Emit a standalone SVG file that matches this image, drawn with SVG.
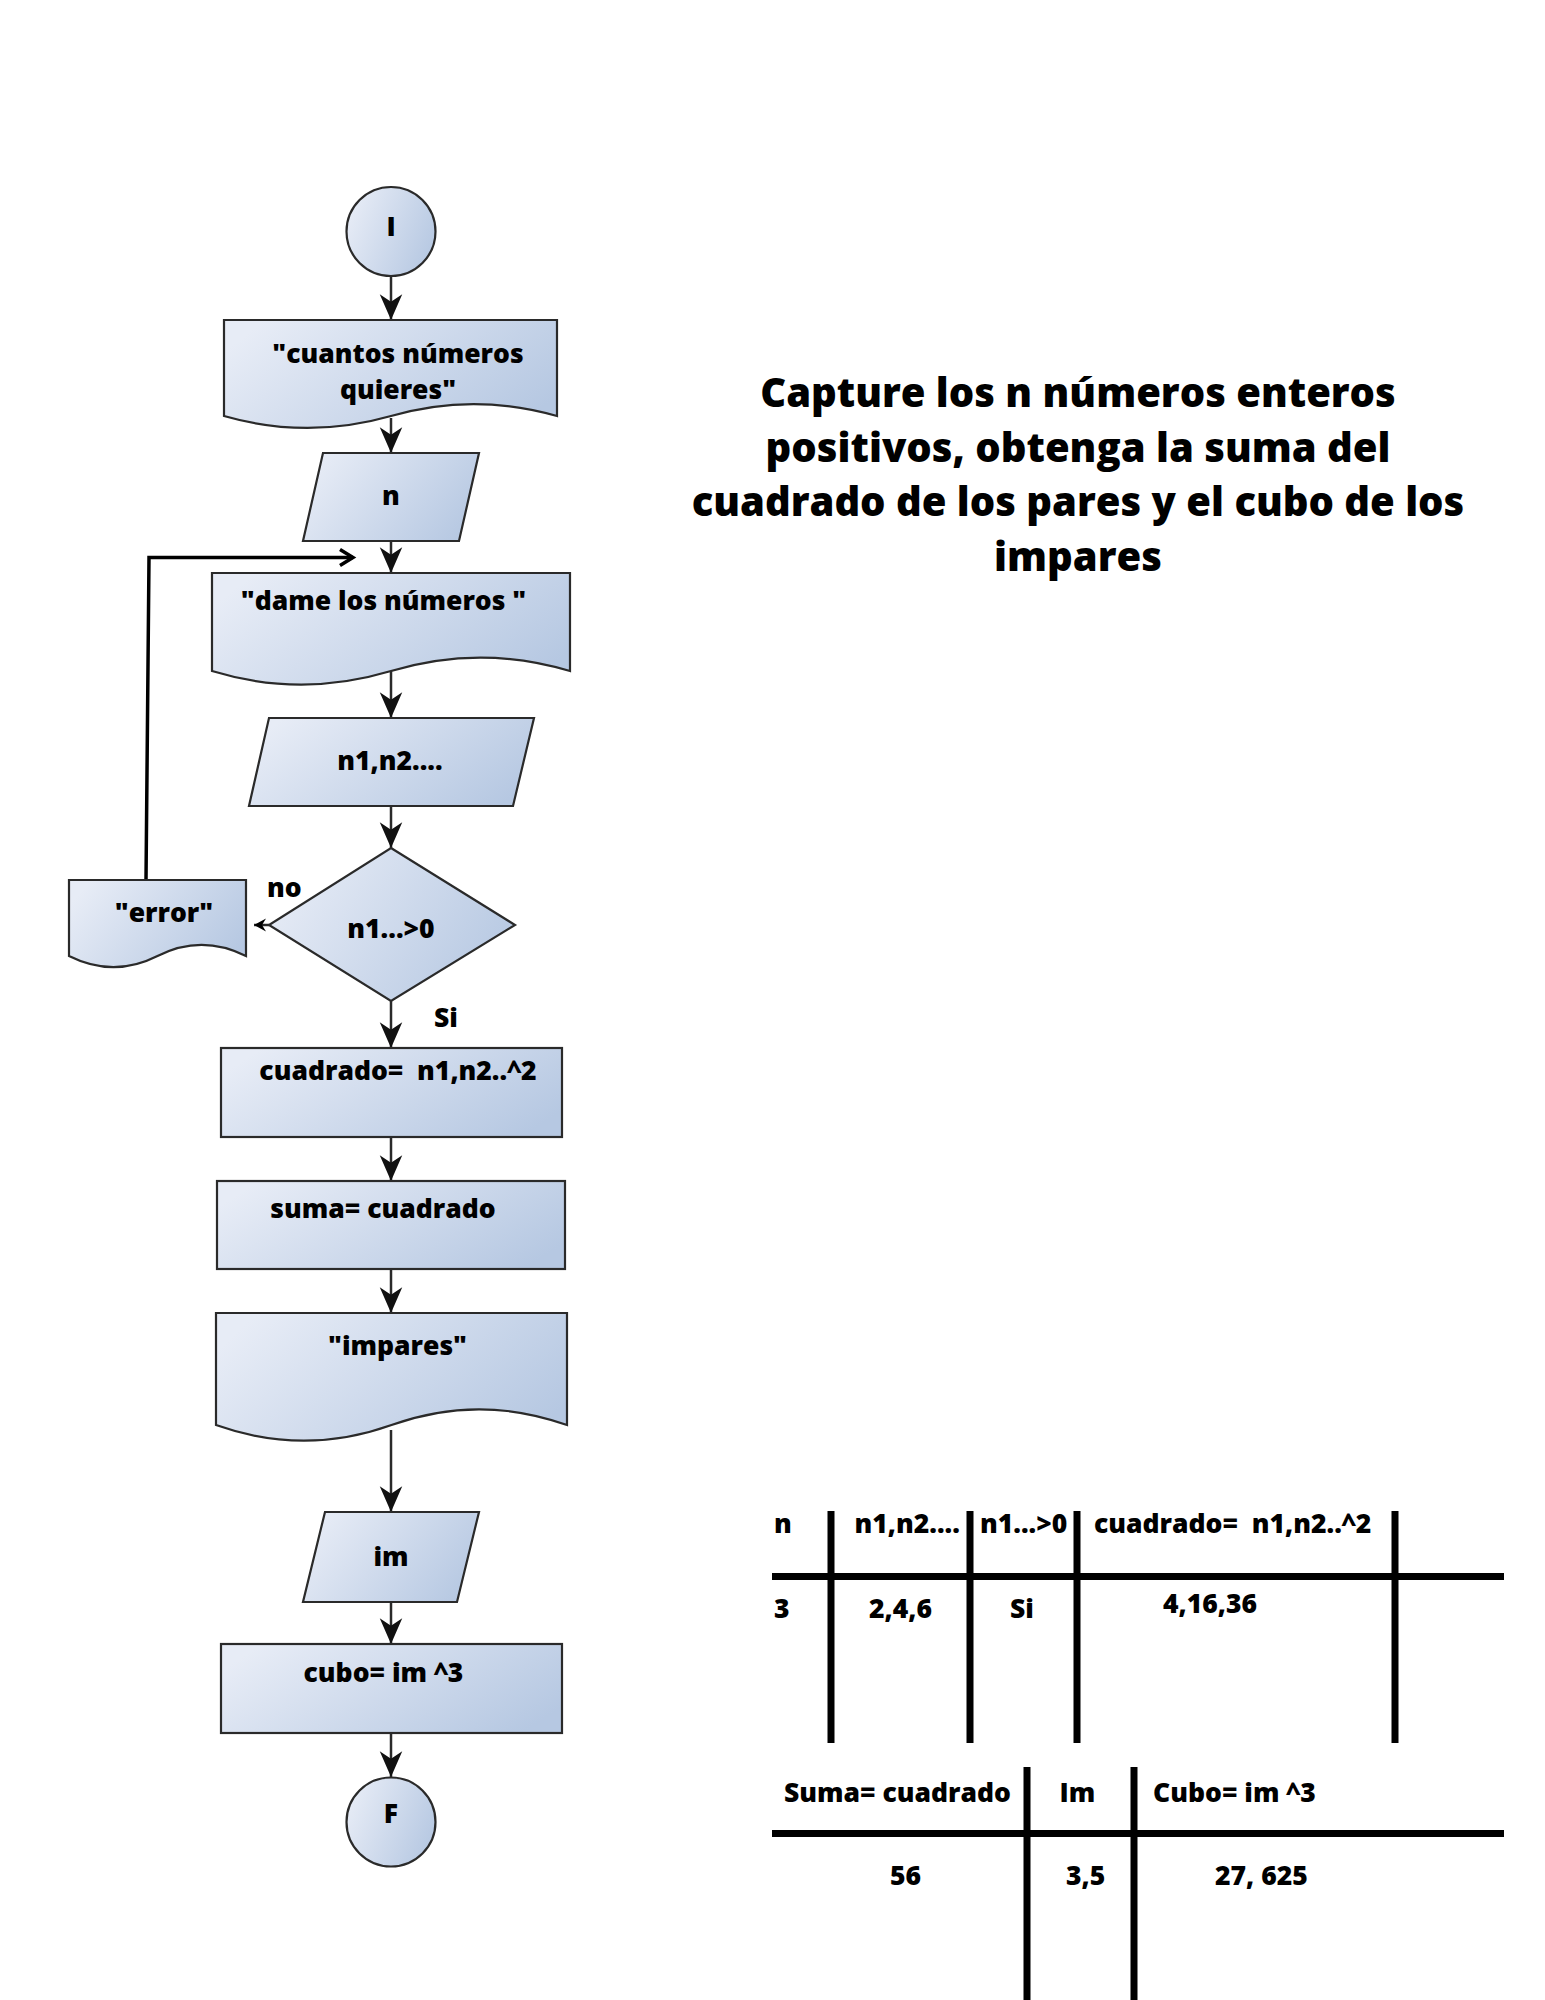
<svg xmlns="http://www.w3.org/2000/svg" width="1545" height="2000" viewBox="0 0 1545 2000">
<defs>
<linearGradient id="g" x1="0" y1="0.3" x2="1" y2="0.7">
<stop offset="0" stop-color="#e7ecf6"/>
<stop offset="1" stop-color="#b6c8e2"/>
</linearGradient>
<marker id="ah" markerUnits="userSpaceOnUse" markerWidth="30" markerHeight="30" viewBox="-26 -13 28 26" refX="0" refY="0" orient="auto">
<path d="M0,0 L-24,-10.5 L-17,0 L-24,10.5 Z" fill="#111"/>
</marker>
<marker id="ahs" markerUnits="userSpaceOnUse" markerWidth="16" markerHeight="16" viewBox="-14 -8 16 16" refX="0" refY="0" orient="auto">
<path d="M0,0 L-12,-6.5 L-8,0 L-12,6.5 Z" fill="#000"/>
</marker>
<marker id="open" markerUnits="userSpaceOnUse" markerWidth="24" markerHeight="24" viewBox="-20 -12 24 24" refX="0" refY="0" orient="auto">
<path d="M-13,-8 L0,0 L-13,8" fill="none" stroke="#000" stroke-width="3.5"/>
</marker>
</defs>
<style>
.n{fill:url(#g);stroke:#2a2a2a;stroke-width:2.2}
.t{font-family:"Open Sans","Noto Sans",sans-serif;font-weight:800;font-size:26.5px;fill:#000}
.c{text-anchor:middle}
.title{font-family:"Open Sans","Noto Sans",sans-serif;font-weight:800;font-size:40px;fill:#000;text-anchor:middle}
.e{fill:none;stroke:#2a2a2a;stroke-width:2.5;marker-end:url(#ah)}
.tl{stroke:#000;stroke-width:7;fill:none}
</style>
<rect width="1545" height="2000" fill="#fff"/>

<g id="connectors">
<path class="e" d="M391,276 V320"/>
<path class="e" d="M391,418 V453"/>
<path class="e" d="M391,541 V573"/>
<path class="e" d="M391,671 V718"/>
<path class="e" d="M391,806 V848"/>
<path class="e" d="M391,1001 V1048"/>
<path class="e" d="M391,1137 V1181"/>
<path class="e" d="M391,1269 V1313"/>
<path class="e" d="M391,1430 V1512"/>
<path class="e" d="M391,1602 V1644"/>
<path class="e" d="M391,1733 V1777"/>
<path d="M269,925 H254" fill="none" stroke="#2a2a2a" stroke-width="2.5" marker-end="url(#ahs)"/>
<path d="M146,880 L149,557.5 H353" fill="none" stroke="#000" stroke-width="3.5" marker-end="url(#open)"/>
</g>

<g id="node-inicio">
<circle class="n" cx="391" cy="231.5" r="44.5"/>
<text class="t c" x="391" y="236">I</text>
</g>

<g id="node-cuantos">
<path class="n" d="M224,320 H557 V416 C501,400 446,400 391,416 C335,432 280,432 224,416 Z"/>
<text class="t c" x="398" y="363">"cuantos números</text>
<text class="t c" x="398" y="399">quieres"</text>
</g>

<g id="node-n">
<path class="n" d="M323,453 H479 L459,541 H303 Z"/>
<text class="t c" x="391" y="505">n</text>
</g>

<g id="node-dame">
<path class="n" d="M212,573 H570 V671 C510,653 451,653 391,671 C331,689 271,689 212,671 Z"/>
<text class="t c" x="383.5" y="610" xml:space="preserve">"dame los números "</text>
</g>

<g id="node-n1n2">
<path class="n" d="M269,718 H534 L513,806 H249 Z"/>
<text class="t c" x="390" y="770">n1,n2....</text>
</g>

<g id="node-decision">
<path class="n" d="M391,848 L515,925 L391,1001 L269,925 Z"/>
<text class="t c" x="391" y="938">n1...&gt;0</text>
</g>

<g id="node-error">
<path class="n" d="M69,880 H246 V956 C216,941 187,941 157.5,956 C128,971 99,971 69,956 Z"/>
<text class="t c" x="164" y="922">"error"</text>
</g>

<g id="labels">
<text class="t" x="267" y="897">no</text>
<text class="t c" x="446" y="1027">Si</text>
</g>

<g id="node-cuadrado">
<rect class="n" x="221" y="1048" width="341" height="89"/>
<text class="t c" x="398" y="1080" xml:space="preserve">cuadrado=  n1,n2..^2</text>
</g>

<g id="node-suma">
<rect class="n" x="217" y="1181" width="348" height="88"/>
<text class="t c" x="383" y="1218">suma= cuadrado</text>
</g>

<g id="node-impares">
<path class="n" d="M216,1313 H567 V1425 C508,1404 450,1404 391.5,1425 C333,1446 275,1446 216,1425 Z"/>
<text class="t c" x="397.5" y="1355">"impares"</text>
</g>

<g id="node-im">
<path class="n" d="M325,1512 H479 L457,1602 H303 Z"/>
<text class="t c" x="391" y="1566">im</text>
</g>

<g id="node-cubo">
<rect class="n" x="221" y="1644" width="341" height="89"/>
<text class="t c" x="383.5" y="1682">cubo= im ^3</text>
</g>

<g id="node-fin">
<circle class="n" cx="391" cy="1822" r="44.5"/>
<text class="t c" x="391" y="1823">F</text>
</g>

<g id="title">
<text class="title" x="1078" y="407">Capture los n números enteros</text>
<text class="title" x="1078" y="461.5">positivos, obtenga la suma del</text>
<text class="title" x="1078" y="516">cuadrado de los pares y el cubo de los</text>
<text class="title" x="1078" y="570.5">impares</text>
</g>

<g id="table1">
<path class="tl" d="M772,1576.5 H1504 M831,1511 V1743 M970,1511 V1743 M1077,1511 V1743 M1395,1511 V1743"/>
<text class="t" x="774" y="1533">n</text>
<text class="t" x="854.5" y="1533">n1,n2....</text>
<text class="t" x="980" y="1533">n1...&gt;0</text>
<text class="t" x="1094" y="1533" xml:space="preserve">cuadrado=  n1,n2..^2</text>
<text class="t" x="774" y="1618">3</text>
<text class="t" x="869" y="1618">2,4,6</text>
<text class="t" x="1010" y="1618">Si</text>
<text class="t" x="1163" y="1613">4,16,36</text>
</g>

<g id="table2">
<path class="tl" d="M772,1833.5 H1504 M1027,1767 V2000 M1134,1767 V2000"/>
<text class="t" x="784" y="1802">Suma= cuadrado</text>
<text class="t" x="1059.5" y="1802">Im</text>
<text class="t" x="1153" y="1802">Cubo= im ^3</text>
<text class="t" x="890" y="1885">56</text>
<text class="t" x="1066" y="1885">3,5</text>
<text class="t" x="1215" y="1885">27, 625</text>
</g>
</svg>
